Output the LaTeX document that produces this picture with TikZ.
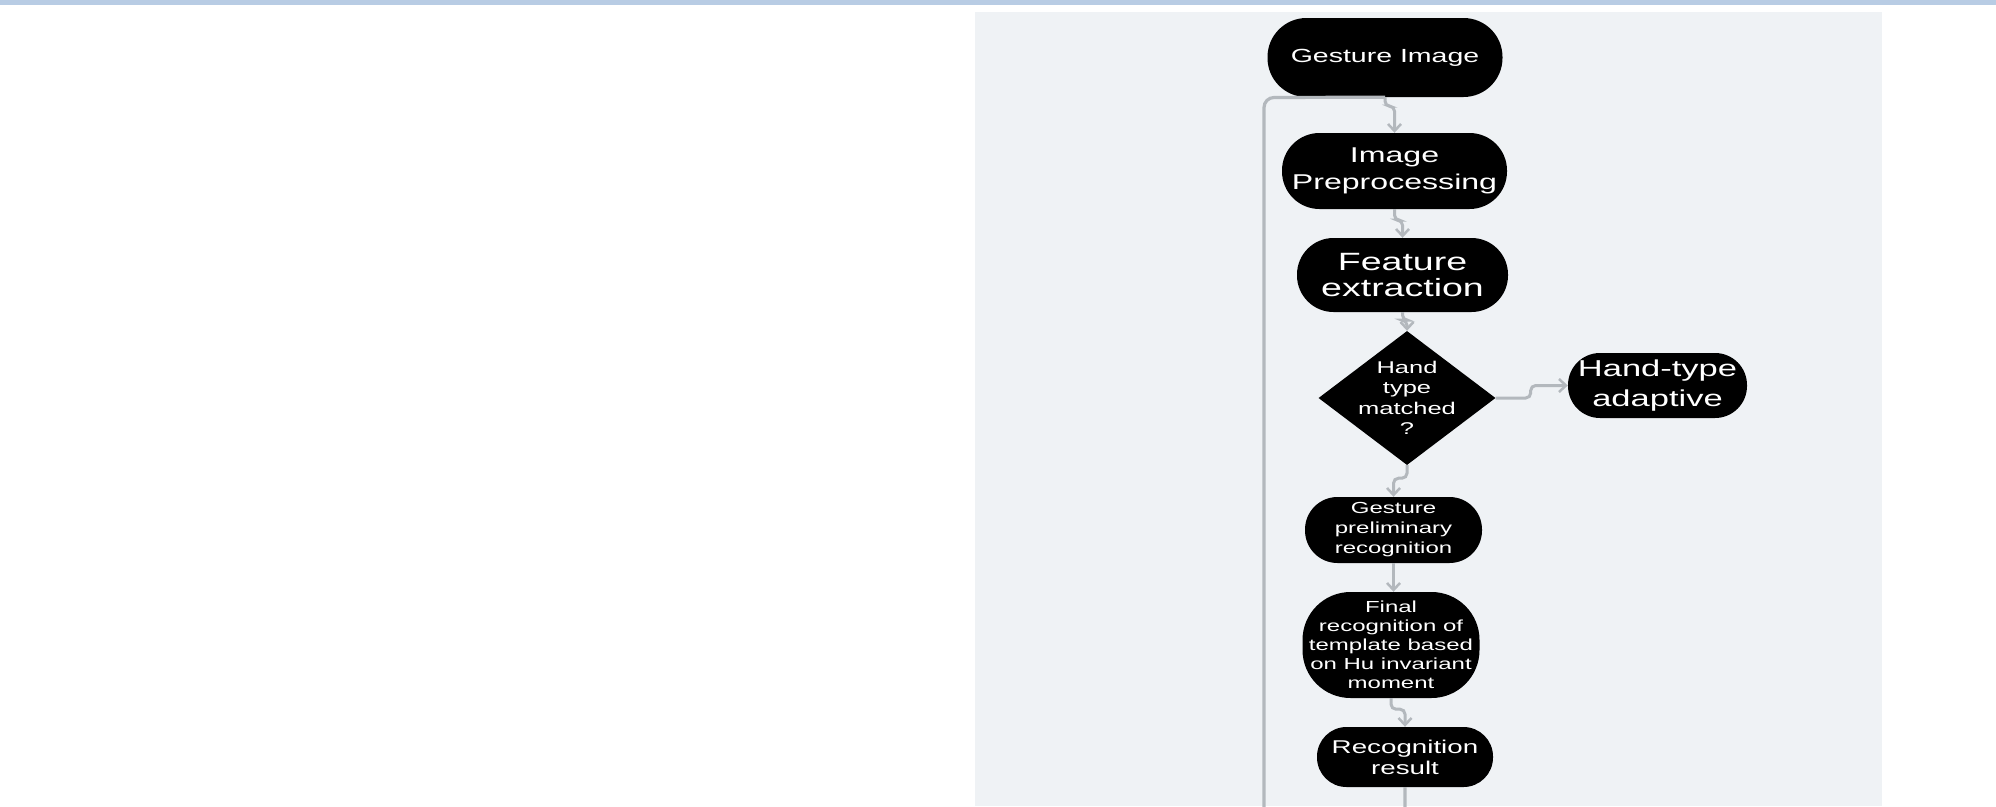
\documentclass[tikz,border=0pt]{standalone}
\usepackage{fontspec}
\newfontfamily\nodefont{Liberation Sans}[FakeStretch=1.5]
\usetikzlibrary{arrows.meta,shapes.geometric}
\definecolor{panelbg}{HTML}{EFF2F5}
\definecolor{barblue}{HTML}{B8CCE4}
\definecolor{linegray}{HTML}{B3B8BD}
\tikzset{
  pill/.style={rectangle, fill=black, text=white, align=center, inner sep=0pt},
  fs/.style 2 args={font=\nodefont\fontsize{#1}{#2}\selectfont},
  conn/.style={draw=linegray, line width=3pt, rounded corners=5pt,
    -{Straight Barb[length=7pt,width=13pt,line width=2.5pt]}},
  loopline/.style={draw=linegray, line width=3.2pt, rounded corners=10pt},
}
\begin{document}
\begin{tikzpicture}[x=1pt,y=-1pt]
\clip (0,0) rectangle (1996,806);
\fill[white] (0,0) rectangle (1996,806);
\fill[barblue] (0,0) rectangle (1996,5);
\fill[panelbg] (975,12) rectangle (1882,806);

% nodes
\node[pill, fs={19}{24}, minimum width=235, minimum height=79, rounded corners=39] (gi) at (1385,57.5)
  {Gesture Image};
\node[pill, fs={21.4}{27}, minimum width=225, minimum height=76, rounded corners=37.5] (pre) at (1394.5,171)
  {Image\\Preprocessing};
\node[pill, fs={25}{26}, minimum width=211, minimum height=74, rounded corners=36.5] (feat) at (1402.5,275)
  {Feature\\extraction};
\node[diamond, fill=black, minimum width=177, minimum height=134, inner sep=0pt] (dia) at (1407,398) {};
\node[text=white, align=center, inner sep=0pt, fs={17}{20.5}] (diatext) at (dia.center)
  {Hand\\type\\matched\\?};
\node[pill, fs={23}{30}, minimum width=179, minimum height=65, rounded corners=32] (ht) at (1657.5,385.5)
  {Hand-type\\adaptive};
\node[pill, fs={16}{20}, minimum width=177, minimum height=66, rounded corners=32.5] (gp) at (1393.5,530)
  {Gesture\\preliminary\\recognition};
\node[pill, fs={16}{19}, minimum width=177, minimum height=106, rounded corners=48] (fin) at (1391,645)
  {Final\\recognition of\\template based\\on Hu invariant\\moment};
\node[pill, fs={18.5}{21}, minimum width=176, minimum height=60, rounded corners=29.5] (rec) at (1405,757)
  {Recognition\\result};

% loop coordinates
\coordinate (lb) at (1264,840);
\coordinate (lt) at (1264,97.5);

% connectors
\draw[loopline] (rec.south) |- (lb) -- (lt) -- (gi.south);
\draw[conn] (gi.south) -- ++(0,9) -| (pre.north);
\draw[conn] (pre.south) -- ++(0,11) -| (feat.north);
\draw[conn] (feat.south) -- ++(0,8) -| (dia.north);
\draw[conn] (dia.east) -- ++(35,0) |- (ht.west);
\draw[conn] (dia.south) -- ++(0,13) -| (gp.north);
\draw[conn] (gp.south) -- (gp.south |- fin.north);
\draw[conn] (fin.south) -- ++(0,11) -| (rec.north);
\end{tikzpicture}
\end{document}
